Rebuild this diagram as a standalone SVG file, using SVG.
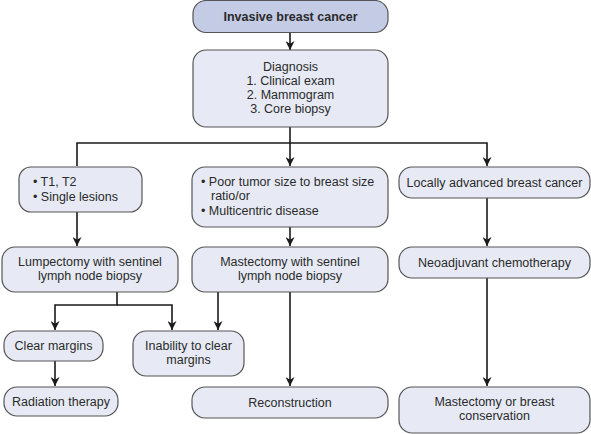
<svg xmlns="http://www.w3.org/2000/svg" width="591" height="434" viewBox="0 0 591 434">
<defs>
<marker id="ah" viewBox="0 0 10 10" refX="10" refY="5" markerWidth="9" markerHeight="9" markerUnits="userSpaceOnUse" orient="auto">
<path d="M0,0 L10,5 L0,10 L3,5 Z" fill="#1a1a1a"/>
</marker>
<style>
rect.n{fill:#e7eaf5;stroke:#555;stroke-width:1.2}
rect.top{fill:#c3cbe5;stroke:#555;stroke-width:1.2}
text{font-family:"Liberation Sans",Arial,sans-serif;font-size:12.5px;fill:#2a2a2a}
.c{text-anchor:middle}
.b{font-weight:bold}
#connectors path{fill:none;stroke:#1a1a1a;stroke-width:1.6}
</style>
</defs>
<rect width="591" height="434" fill="#fff"/>
<g id="connectors">
<path d="M290,33 V50" marker-end="url(#ah)"/>
<path d="M290,127 V166" marker-end="url(#ah)"/>
<path d="M77,166 V143 H487 V166" marker-end="url(#ah)"/>
<path d="M77,212 V246" marker-end="url(#ah)"/>
<path d="M290,227 V246" marker-end="url(#ah)"/>
<path d="M487,198 V246" marker-end="url(#ah)"/>
<path d="M117,292 V305 H55 V330" marker-end="url(#ah)"/>
<path d="M117,305 H172 V330" marker-end="url(#ah)"/>
<path d="M218,292 V330" marker-end="url(#ah)"/>
<path d="M290,292 V386" marker-end="url(#ah)"/>
<path d="M55,361 V386" marker-end="url(#ah)"/>
<path d="M487,278 V386" marker-end="url(#ah)"/>
</g>
<g id="n-invasive"><rect class="top" x="193" y="0.5" width="195" height="32" rx="13"/><text class="c b" x="290.5" y="21">Invasive breast cancer</text></g>
<g id="n-diagnosis"><rect class="n" x="193" y="50" width="195" height="77" rx="13"/>
<text class="c" x="290.5" y="71">Diagnosis</text><text class="c" x="290.5" y="85">1. Clinical exam</text><text class="c" x="290.5" y="99">2. Mammogram</text><text class="c" x="290.5" y="113">3. Core biopsy</text></g>
<g id="n-t1"><rect class="n" x="19" y="167" width="123" height="45" rx="12"/>
<text x="33" y="186">• T1, T2</text><text x="33" y="201">• Single lesions</text></g>
<g id="n-poor"><rect class="n" x="192" y="167" width="196" height="60" rx="13"/>
<text x="201" y="186">• Poor tumor size to breast size</text><text x="211" y="200">ratio/or</text><text x="201" y="215">• Multicentric disease</text></g>
<g id="n-locally"><rect class="n" x="399" y="167" width="191" height="31" rx="13"/><text class="c" x="494.5" y="187">Locally advanced breast cancer</text></g>
<g id="n-lump"><rect class="n" x="2" y="247" width="176" height="45" rx="13"/>
<text class="c" x="90" y="266">Lumpectomy with sentinel</text><text class="c" x="90" y="280">lymph node biopsy</text></g>
<g id="n-mast"><rect class="n" x="192" y="247" width="196" height="45" rx="13"/>
<text class="c" x="290" y="266">Mastectomy with sentinel</text><text class="c" x="290" y="280">lymph node biopsy</text></g>
<g id="n-neo"><rect class="n" x="399" y="247" width="191" height="31" rx="13"/><text class="c" x="494.5" y="267">Neoadjuvant chemotherapy</text></g>
<g id="n-clear"><rect class="n" x="4" y="331" width="99" height="30" rx="13"/><text class="c" x="53.5" y="350">Clear margins</text></g>
<g id="n-inab"><rect class="n" x="133" y="331" width="111" height="45" rx="13"/>
<text class="c" x="188.5" y="350">Inability to clear</text><text class="c" x="188.5" y="364">margins</text></g>
<g id="n-rad"><rect class="n" x="4" y="387" width="114" height="29" rx="13"/><text class="c" x="61" y="406">Radiation therapy</text></g>
<g id="n-recon"><rect class="n" x="192" y="387" width="196" height="31" rx="13"/><text class="c" x="290" y="407">Reconstruction</text></g>
<g id="n-mob"><rect class="n" x="399" y="387" width="191" height="46" rx="13"/>
<text class="c" x="494.5" y="406">Mastectomy or breast</text><text class="c" x="494.5" y="420">conservation</text></g>
</svg>
